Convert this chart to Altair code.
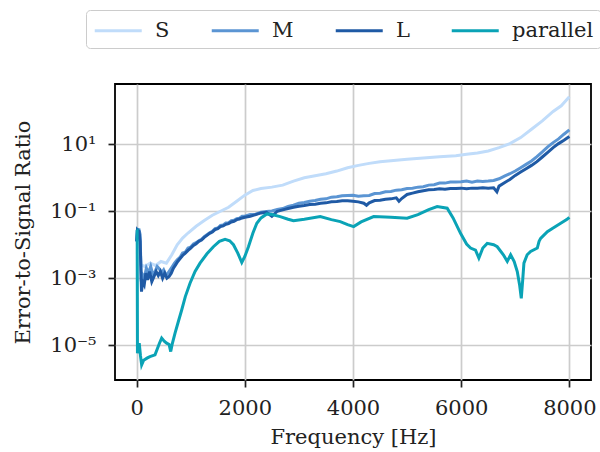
import altair as alt
import pandas as pd

# ---- data (log10 of Error-to-Signal Ratio) ----
S_freq = [0, 20, 50, 80, 150, 250, 350, 450, 550, 650, 750, 850, 950, 1100, 1250, 1400,
          1550, 1700, 1850, 2000, 2150, 2300, 2500, 2700, 2900, 3100, 3300, 3500, 3700,
          3900, 4100, 4300, 4500, 4700, 5000, 5300, 5600, 5900, 6100, 6300, 6500, 6700,
          6900, 7100, 7300, 7500, 7700, 7850, 8000]
S_exp = [-1.9, -1.55, -1.6, -2.6, -2.65, -2.55, -2.62, -2.5, -2.55, -2.3, -2.0, -1.8,
         -1.65, -1.45, -1.28, -1.12, -1.0, -0.88, -0.7, -0.52, -0.38, -0.32, -0.28, -0.22,
         -0.1, 0.0, 0.06, 0.12, 0.2, 0.3, 0.37, 0.43, 0.48, 0.51, 0.55, 0.59, 0.63, 0.66,
         0.7, 0.74, 0.8, 0.9, 1.02, 1.2, 1.45, 1.7, 1.98, 2.15, 2.42]

M_freq = [0, 15, 45, 65, 85, 110, 140, 180, 220, 260, 300, 340, 380, 420, 460, 500, 540,
          580, 620, 660, 700, 750, 800, 850, 900, 950, 1000, 1050, 1100, 1150, 1200, 1250,
          1300, 1350, 1400, 1450, 1500, 1550, 1600, 1650, 1700, 1750, 1800, 1850, 1900,
          1950, 2000, 2100, 2200, 2300, 2400, 2500, 2600, 2700, 2800, 2900, 3000, 3100,
          3200, 3300, 3400, 3500, 3600, 3700, 3800, 3900, 4000, 4100, 4200, 4300, 4400,
          4500, 4600, 4700, 4800, 4900, 5000, 5100, 5200, 5300, 5400, 5500, 5600, 5700,
          5800, 5900, 6000, 6100, 6200, 6300, 6400, 6500, 6600, 6700, 6800, 6900, 7000,
          7100, 7200, 7300, 7400, 7500, 7600, 7700, 7800, 7900, 8000]
M_exp = [-1.9, -1.55, -1.55, -1.7, -3.1, -2.9, -3.0, -2.7, -2.85, -2.65, -2.9, -2.8,
         -2.65, -2.72, -2.85, -2.75, -2.9, -2.85, -2.75, -2.65, -2.55, -2.45, -2.38, -2.25,
         -2.22, -2.1, -2.07, -1.98, -1.94, -1.88, -1.84, -1.76, -1.7, -1.64, -1.6, -1.52,
         -1.5, -1.42, -1.41, -1.35, -1.34, -1.28, -1.27, -1.22, -1.21, -1.15, -1.15, -1.1,
         -1.09, -1.03, -1.01, -0.99, -0.95, -0.92, -0.86, -0.82, -0.76, -0.74, -0.7, -0.68,
         -0.64, -0.63, -0.58, -0.57, -0.54, -0.53, -0.52, -0.55, -0.54, -0.53, -0.47,
         -0.46, -0.42, -0.41, -0.37, -0.36, -0.32, -0.31, -0.28, -0.27, -0.22, -0.21,
         -0.16, -0.16, -0.13, -0.13, -0.12, -0.1, -0.13, -0.1, -0.11, -0.1, -0.08, -0.03,
         0.05, 0.12, 0.2, 0.3, 0.4, 0.5, 0.63, 0.77, 0.92, 1.05, 1.16, 1.3, 1.43]

L_freq = [0, 15, 45, 65, 90, 110, 140, 170, 200, 240, 280, 320, 360, 400, 440, 480, 520,
          560, 600, 640, 680, 720, 760, 800, 850, 900, 950, 1000, 1050, 1100, 1150, 1200,
          1250, 1300, 1350, 1400, 1450, 1500, 1550, 1600, 1650, 1700, 1750, 1800, 1850,
          1900, 1950, 2000, 2100, 2200, 2300, 2400, 2500, 2600, 2700, 2800, 2900, 3000,
          3100, 3200, 3300, 3400, 3500, 3600, 3700, 3800, 3900, 4000, 4100, 4200, 4250,
          4300, 4400, 4500, 4600, 4700, 4800, 4850, 4900, 5000, 5100, 5200, 5300, 5400,
          5500, 5600, 5700, 5800, 5900, 6000, 6100, 6200, 6300, 6400, 6500, 6600, 6660,
          6700, 6800, 6900, 7000, 7100, 7200, 7300, 7400, 7500, 7600, 7700, 7800, 7900,
          8000]
L_exp = [-1.9, -1.55, -1.6, -1.9, -3.4, -3.1, -3.2, -2.85, -3.05, -2.8, -3.1, -2.95,
         -2.8, -2.92, -2.8, -3.0, -2.85, -3.0, -2.95, -2.85, -2.7, -2.6, -2.5, -2.42,
         -2.32, -2.25, -2.17, -2.1, -2.02, -1.97, -1.9, -1.86, -1.78, -1.72, -1.66, -1.62,
         -1.55, -1.52, -1.46, -1.44, -1.39, -1.37, -1.32, -1.3, -1.25, -1.23, -1.2, -1.18,
         -1.15, -1.1, -1.05, -1.03, -1.15, -1.0, -0.96, -0.92, -0.88, -0.85, -0.83, -0.8,
         -0.79, -0.76, -0.75, -0.72, -0.71, -0.69, -0.69, -0.7, -0.72, -0.76, -0.82,
         -0.75, -0.68, -0.67, -0.64, -0.63, -0.6, -0.7, -0.62, -0.5, -0.46, -0.42, -0.39,
         -0.36, -0.35, -0.33, -0.34, -0.32, -0.32, -0.31, -0.33, -0.31, -0.31, -0.3,
         -0.31, -0.3, -0.42, -0.25, -0.15, -0.05, 0.07, 0.17, 0.27, 0.37, 0.48, 0.62,
         0.76, 0.9, 1.02, 1.12, 1.23]

P_freq = [0, 10, 15, 48, 70, 93, 130, 200, 246, 340, 420, 463, 510, 555, 600, 630, 660,
          710, 770, 833, 900, 987, 1080, 1172, 1300, 1419, 1530, 1635, 1720, 1790, 1870,
          1944, 2000, 2067, 2150, 2222, 2300, 2407, 2500, 2654, 2800, 2900, 3100, 3395,
          3600, 3765, 3900, 4012, 4150, 4382, 4700, 5000, 5200, 5400, 5556, 5741, 5850,
          5988, 6100, 6173, 6265, 6327, 6400, 6481, 6600, 6667, 6780, 6852, 6914, 6980,
          7037, 7080, 7111, 7140, 7160, 7220, 7284, 7407, 7440, 7469, 7593, 7700, 7840,
          7950, 8000]
P_exp = [-1.56, -1.56, -5.24, -4.94, -5.3, -5.59, -5.45, -5.38, -5.34, -5.29, -4.95,
         -4.79, -4.88, -4.94, -4.98, -5.19, -4.95, -4.64, -4.3, -3.95, -3.55, -3.15, -2.8,
         -2.55, -2.27, -2.06, -1.9, -1.84, -1.88, -2.0, -2.25, -2.53, -2.35, -2.06, -1.65,
         -1.36, -1.2, -1.08, -1.1, -1.16, -1.24, -1.28, -1.24, -1.16, -1.25, -1.31, -1.4,
         -1.46, -1.32, -1.16, -1.18, -1.21, -1.1, -0.95, -0.86, -0.91, -1.2, -1.66, -1.98,
         -2.1, -2.16, -2.4, -2.1, -1.96, -2.0, -2.06, -2.3, -2.5, -2.3, -2.5, -2.8, -3.2,
         -3.6, -3.0, -2.55, -2.3, -2.2, -2.1, -1.9, -1.81, -1.61, -1.5, -1.36, -1.25, -1.18]

series_names = ["S", "M", "L", "parallel"]
series_colors = ["#c0dcfa", "#5b95d3", "#1f5aa5", "#0aa3b6"]
x_ticks = [0, 2000, 4000, 6000, 8000]
y_ticks = [1e-5, 1e-3, 1e-1, 10]

frames = []
for name, fr, ex in [("S", S_freq, S_exp), ("M", M_freq, M_exp),
                     ("L", L_freq, L_exp), ("parallel", P_freq, P_exp)]:
    d = pd.DataFrame({"freq": fr, "exp": ex})
    d["value"] = 10.0 ** d["exp"]
    d["series"] = name
    d["order"] = range(len(d))
    frames.append(d)
df = pd.concat(frames, ignore_index=True)

FONT = "DejaVu Serif"

color = alt.Color(
    "series:N",
    scale=alt.Scale(domain=series_names, range=series_colors),
    legend=alt.Legend(
        title=None, orient="none", legendX=-29, legendY=-74, direction="horizontal",
        symbolType="M-1,0H3", symbolSize=552, symbolStrokeWidth=3,
        labelFont=FONT, labelFontSize=21, labelColor="#222222", labelOffset=35,
        columnPadding=35, padding=7, strokeColor="#cccccc", fillColor="white",
        cornerRadius=4, labelLimit=300,
    ),
)

x = alt.X("freq:Q", title="Frequency [Hz]",
          scale=alt.Scale(domain=[-400, 8400], nice=False, zero=False),
          axis=alt.Axis(values=x_ticks, format="d", labelFlush=False, titlePadding=8,
                        labelPadding=10))
y = alt.Y("value:Q", title="Error-to-Signal Ratio",
          scale=alt.Scale(type="log", domain=[10 ** -6.04, 10 ** 2.80], nice=False),
          axis=alt.Axis(values=y_ticks, titlePadding=16, labelPadding=12,
                        labelExpr="datum.value > 1 ? '10¹' : datum.value > 0.01 ? '10⁻¹' : datum.value > 0.0001 ? '10⁻³' : '10⁻⁵'"))

layers = []
for name in series_names:
    layers.append(
        alt.Chart(df).transform_filter(alt.datum.series == name)
        .mark_line(strokeWidth=3)
        .encode(x=x, y=y, color=color, order="order:Q")
    )

chart = alt.layer(*layers).properties(
    width=476, height=296,
    background="white",
    padding={"left": 115, "top": 84, "right": 9, "bottom": 72},
    autosize=alt.AutoSizeParams(type="none"),
).configure_view(
    stroke="black", strokeWidth=1.8
).configure_axis(
    labelFont=FONT, labelFontSize=21, labelColor="#222222",
    titleFont=FONT, titleFontSize=21, titleFontWeight="normal", titleColor="#222222",
    gridColor="#cccccc", gridWidth=1.7, tickColor="#222222", tickWidth=1.7, tickSize=7,
    domain=False,
)

chart.save("out.html", embed_options={"renderer": "svg", "actions": False})
